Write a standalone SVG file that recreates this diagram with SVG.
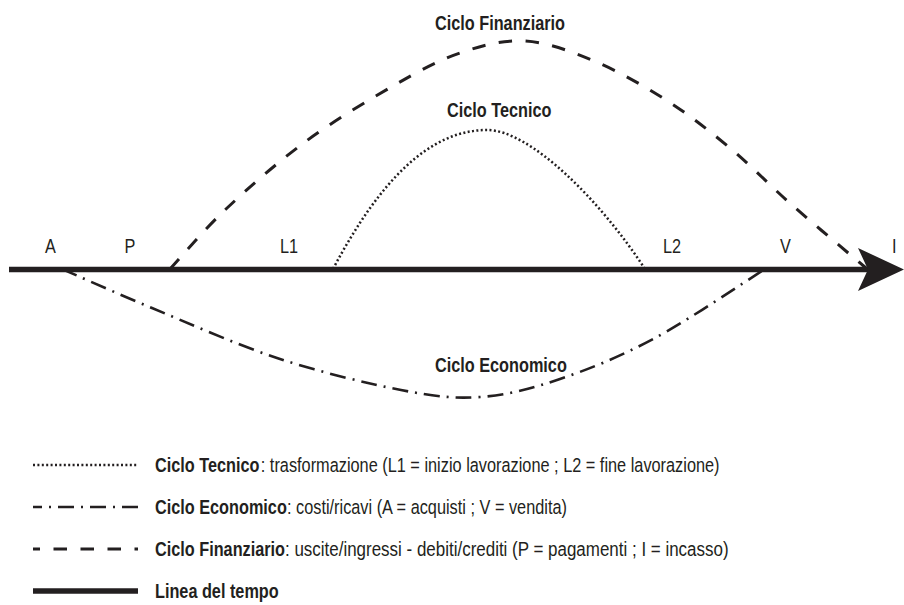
<svg xmlns="http://www.w3.org/2000/svg" width="904" height="605" viewBox="0 0 904 605">
<style>
.t{font-family:"Liberation Sans",Arial,sans-serif;font-size:19.5px;fill:#231f20}
.b{font-weight:bold}
.fin{fill:none;stroke:#231f20;stroke-width:3;stroke-dasharray:13.5 13.5}
.tec{fill:none;stroke:#231f20;stroke-width:2.5;stroke-dasharray:2 2.4}
.eco{fill:none;stroke:#231f20;stroke-width:2.6;stroke-dasharray:16 7 2 7}
.axis{fill:none;stroke:#231f20;stroke-width:5.5}
</style>
<rect width="904" height="605" fill="#ffffff"/>
<g id="connectors">
  <path id="ciclo-tecnico" class="tec" d="M333,269 C380,180 430,130 487,130 C530,130 600,200 645,269"/>
  <path id="ciclo-finanziario" class="fin" d="M170,269 C179.3,259 203.5,230.2 226,209 C248.5,187.8 277.2,162.5 305,142 C332.8,121.5 367.2,100.8 393,86 C418.8,71.2 438,60.5 460,53 C482,45.5 502.7,39.7 525,41 C547.3,42.3 570.5,51.2 594,61 C617.5,70.8 643.3,85.5 666,100 C688.7,114.5 709,130.5 730,148 C751,165.5 769.3,185 792,205 C814.7,225 853.7,257.5 866,268"/>
  <path id="ciclo-economico" class="eco" d="M62,269 C77,275.5 116.2,293.2 152,308 C187.8,322.8 235.5,344.3 277,358 C318.5,371.7 367.2,383.5 401,390 C434.8,396.5 453.5,398.8 480,397 C506.5,395.2 530.8,388.8 560,379 C589.2,369.2 620.8,356.3 655,338 C689.2,319.7 746.7,280.5 765,269"/>
  <g id="linea-tempo">
    <path class="axis" d="M9,269.5 H870"/>
    <polygon points="904,269.5 858,248 868,269.5 858,291" fill="#231f20"/>
  </g>
</g>
<g id="label-finanziario"><text class="t b" transform="translate(435,30) scale(0.834,1)">Ciclo Finanziario</text></g>
<g id="label-tecnico"><text class="t b" transform="translate(447,116.5) scale(0.834,1)">Ciclo Tecnico</text></g>
<g id="label-economico"><text class="t b" transform="translate(435,372) scale(0.834,1)">Ciclo Economico</text></g>
<g id="node-A"><text class="t" transform="translate(45,253) scale(0.834,1)">A</text></g>
<g id="node-P"><text class="t" transform="translate(124.5,253) scale(0.834,1)">P</text></g>
<g id="node-L1"><text class="t" transform="translate(280,253) scale(0.834,1)">L1</text></g>
<g id="node-L2"><text class="t" transform="translate(663,253) scale(0.834,1)">L2</text></g>
<g id="node-V"><text class="t" transform="translate(780,253) scale(0.834,1)">V</text></g>
<g id="node-I"><text class="t" transform="translate(892,253) scale(0.834,1)">I</text></g>
<g id="legend">
  <g id="legend-tecnico">
    <path class="tec" d="M33,465 H138"/>
    <text class="t b" transform="translate(155,471.5) scale(0.834,1)">Ciclo Tecnico</text>
    <text class="t" transform="translate(260.8,471.5) scale(0.837,1)">: trasformazione (L1 = inizio lavorazione ; L2 = fine lavorazione)</text>
  </g>
  <g id="legend-economico">
    <path class="eco" d="M33,507 H138" stroke-dashoffset="7"/>
    <text class="t b" transform="translate(155,513.5) scale(0.834,1)">Ciclo Economico</text>
    <text class="t" transform="translate(287,513.5) scale(0.836,1)">: costi/ricavi (A = acquisti ; V = vendita)</text>
  </g>
  <g id="legend-finanziario">
    <path class="fin" d="M33,549 H138" stroke-dashoffset="6.5"/>
    <text class="t b" transform="translate(155,555.5) scale(0.834,1)">Ciclo Finanziario</text>
    <text class="t" transform="translate(285,555.5) scale(0.87,1)">: uscite/ingressi - debiti/crediti (P = pagamenti ; I = incasso)</text>
  </g>
  <g id="legend-tempo">
    <path class="axis" d="M33,591 H138" stroke-width="6"/>
    <text class="t b" transform="translate(155,597.5) scale(0.834,1)">Linea del tempo</text>
  </g>
</g>
</svg>
